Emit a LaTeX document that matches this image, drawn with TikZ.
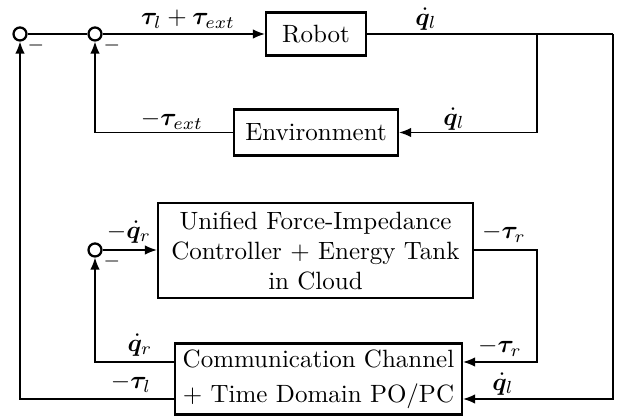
\documentclass[tikz,border=0pt]{standalone}
\usepackage{bm}
\usetikzlibrary{arrows.meta,calc}
\begin{document}
\begin{tikzpicture}[x=0.4pt,y=-0.4pt,
  block/.style={draw,line width=0.9pt,inner sep=1pt,align=center},
  sumpt/.style={circle,draw,line width=0.9pt,minimum size=5.2pt,inner sep=0pt},
  sig/.style={line width=0.55pt},
  flow/.style={sig,-{Latex[length=4.8pt,width=3.8pt]}},
  lbl/.style={inner sep=0pt},
  neg/.style={inner sep=0pt,font=\footnotesize}]
\useasboundingbox (0,0) rectangle (621,417);

% summing junctions
\node[sumpt] (s1) at (20,34) {};
\node[sumpt] (s2) at (95,34) {};
\node[sumpt] (s3) at (95,250) {};
\node[neg] at (36,46) {$-$};
\node[neg] at (112,46) {$-$};
\node[neg] at (112,262) {$-$};

% blocks
\node[block,minimum width=40pt,minimum height=17.2pt] (robot) at (316,34) {Robot};
\node[block,minimum width=65.6pt,minimum height=18.4pt] (env) at (316,132.5) {Environment};
\node[block,minimum width=126pt,minimum height=38pt] (ctrl) at (315.5,250.5)
  {Unified Force-Impedance\\Controller + Energy Tank\\in Cloud};
\node[block,minimum width=114.8pt,minimum height=28.4pt] (comm) at (318.5,379)
  {Communication Channel\\[2pt]+ Time Domain PO/PC};

% routing points
\coordinate (br) at (537,34);
\coordinate (rt) at (613,34);
\coordinate (cr) at (537,362);
\coordinate (rb) at (613,399);
\coordinate (cl1) at (95,362);
\coordinate (cl2) at (20,399);

% upper loop
\draw[sig] (s1) -- (s2);
\draw[flow] (s2) -- (robot);
\draw[sig] (robot) -- (rt);
\draw[flow] (br) |- (env.east);
\draw[flow] (env.west) -| (s2.south);

% lower loop
\draw[flow] (s3) -- (ctrl.west |- s3);
\draw[flow] (ctrl.east |- s3) -| (cr) -- (cr -| comm.east);
\draw[flow] (rt) -- (rb) -- (rb -| comm.east);
\draw[flow] (cl1 -| comm.west) -- (cl1) -- (s3.south);
\draw[flow] (cl2 -| comm.west) -- (cl2) -- (s1.south);

% signal labels
\node[lbl] at (188,19) {$\bm{\tau}_l+\bm{\tau}_{ext}$};
\node[lbl] at (426,19) {$\dot{\bm{q}}_l$};
\node[lbl] at (454,119) {$\dot{\bm{q}}_l$};
\node[lbl] at (172,120) {$-\bm{\tau}_{ext}$};
\node[lbl] at (129,232) {$-\dot{\bm{q}}_r$};
\node[lbl] at (504,233) {$-\bm{\tau}_r$};
\node[lbl] at (500,347) {$-\bm{\tau}_r$};
\node[lbl] at (140,345) {$\dot{\bm{q}}_r$};
\node[lbl] at (131,383) {$-\bm{\tau}_l$};
\node[lbl] at (503,384) {$\dot{\bm{q}}_l$};
\end{tikzpicture}
\end{document}
